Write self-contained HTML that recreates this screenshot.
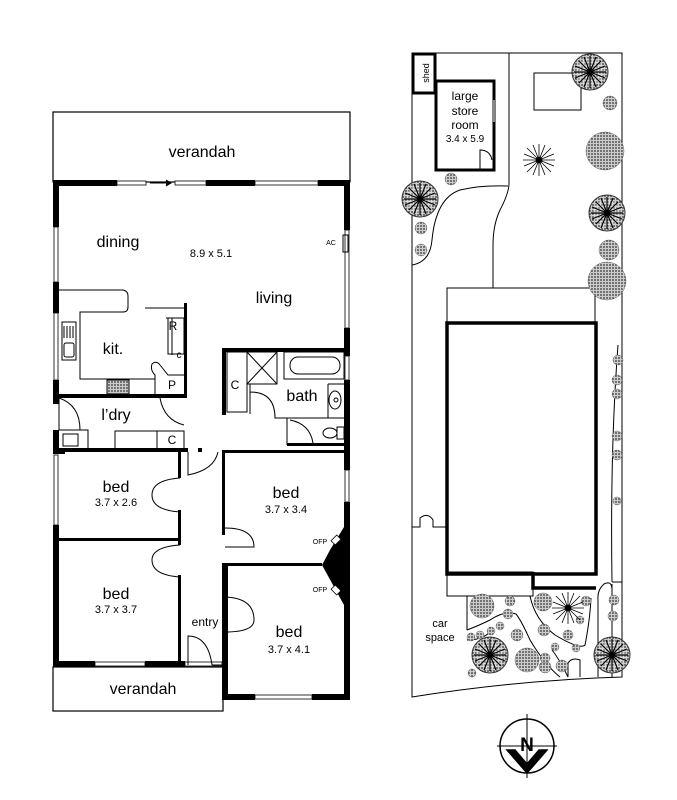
<!DOCTYPE html>
<html><head><meta charset="utf-8"><style>
html,body{margin:0;padding:0;background:#fff}
svg{display:block}
text{font-family:"Liberation Sans",Arial,sans-serif;fill:#000}
</style></head><body>
<svg width="677" height="800" viewBox="0 0 677 800" xmlns="http://www.w3.org/2000/svg">
<defs>
<pattern id="st" width="3" height="3" patternUnits="userSpaceOnUse"><rect width="3" height="3" fill="#ccc"/><circle cx="1" cy="1" r="0.9" fill="#333"/></pattern>
<g id="tree"><circle r="18" fill="url(#st)" stroke="#333" stroke-width="1"/><circle r="14" fill="#fff" opacity="0.3"/>
<g stroke="#000" stroke-width="1.2"><line x1="-16" y1="0" x2="16" y2="0"/><line x1="0" y1="-16" x2="0" y2="16"/><line x1="-11" y1="-11" x2="11" y2="11"/><line x1="-11" y1="11" x2="11" y2="-11"/><line x1="-15" y1="-6" x2="15" y2="6"/><line x1="-6" y1="-15" x2="6" y2="15"/><line x1="-15" y1="6" x2="15" y2="-6"/><line x1="6" y1="-15" x2="-6" y2="15"/></g><circle r="3" fill="#000"/></g>
<g id="spiky" stroke="#000" stroke-width="0.8"><line x1="-16" y1="0" x2="16" y2="0"/><line x1="0" y1="-16" x2="0" y2="16"/><line x1="-12" y1="-12" x2="12" y2="12"/><line x1="-12" y1="12" x2="12" y2="-12"/><line x1="-15" y1="-6" x2="15" y2="6"/><line x1="-6" y1="-15" x2="6" y2="15"/><line x1="-15" y1="6" x2="15" y2="-6"/><line x1="6" y1="-15" x2="-6" y2="15"/><circle r="3" fill="#000"/></g>
</defs>

<g fill="none" stroke="#000" stroke-width="1.2">
 <rect x="53" y="112" width="297" height="70"/>
 <rect x="53" y="667" width="170" height="44"/>
</g>
<g fill="#000">
 <rect x="53" y="180" width="64" height="6"/>
 <rect x="206" y="180" width="49" height="6"/>
 <rect x="318" y="180" width="32" height="6"/>
 <rect x="53" y="180" width="6" height="47"/>
 <rect x="53" y="282" width="6" height="31"/>
 <rect x="53" y="380" width="6" height="24"/>
 <rect x="53" y="430" width="6" height="20"/>
 <rect x="53" y="450" width="12" height="4"/>
 <rect x="53" y="525" width="6" height="142"/>
 <rect x="344" y="180" width="6" height="50"/>
 <rect x="344" y="328" width="6" height="28"/>
 <rect x="344" y="380" width="6" height="90"/>
 <rect x="344" y="502" width="6" height="198"/>
 <rect x="53" y="661" width="42" height="6"/>
 <rect x="145" y="661" width="40" height="6"/>
 <rect x="225" y="694" width="30" height="6"/>
 <rect x="312" y="694" width="38" height="6"/>
 <rect x="222" y="565" width="6" height="135"/>
 <rect x="53" y="394" width="134" height="4"/>
 <rect x="184" y="303" width="3" height="95"/>
 <rect x="222" y="348" width="128" height="4"/>
 <rect x="222" y="348" width="4" height="67"/>
 <rect x="53" y="448" width="135" height="4"/>
 <rect x="178" y="448" width="3" height="30"/>
 <rect x="178" y="510" width="3" height="35"/>
 <rect x="178" y="575" width="3" height="90"/>
 <rect x="53" y="538" width="128" height="3"/>
 <rect x="222" y="450" width="3" height="85"/>
 <rect x="222" y="567" width="3" height="30"/>
 <rect x="222" y="450" width="125" height="3"/>
 <rect x="222" y="563" width="100" height="3"/>
 <rect x="198" y="448" width="4" height="4"/>
 <rect x="287" y="443" width="60" height="3"/>
 <polygon points="344,527 344,605 322,565 330,550"/>
</g>
<g fill="#fff" stroke="#000" stroke-width="0.8">
 <rect x="117" y="181" width="29" height="4"/><rect x="175" y="181" width="31" height="4"/><rect x="255" y="181" width="63" height="4"/>
 <rect x="54" y="227" width="4" height="55"/><rect x="54" y="313" width="4" height="67"/><rect x="54" y="455" width="4" height="70"/>
 <rect x="345" y="230" width="4" height="98"/><rect x="345" y="356" width="4" height="24"/><rect x="345" y="470" width="4" height="32"/>
 <rect x="95" y="662" width="50" height="4"/><rect x="255" y="695" width="57" height="4"/><rect x="185" y="662" width="37" height="4"/>
 <rect x="333" y="536" width="6" height="8" transform="rotate(45 336 540)"/><rect x="333" y="586" width="6" height="8" transform="rotate(-45 336 590)"/>
</g>
<g stroke="#000" stroke-width="1" fill="none">
 <line x1="150" y1="183" x2="170" y2="183"/><polyline points="166,180 171,183 166,186" fill="#000"/>
 <path d="M59,290 H123 Q128,291 128,296 V307 Q128,312 123,312 H80 V379 H155"/>
 <rect x="62" y="322" width="14" height="38"/><line x1="64" y1="326" x2="64" y2="338"/><line x1="67" y1="326" x2="67" y2="338"/><line x1="70" y1="326" x2="70" y2="338"/><line x1="73" y1="326" x2="73" y2="338"/>
 <rect x="64" y="343" width="10" height="14" rx="2"/>
 <rect x="107" y="380" width="22" height="14" fill="url(#st)"/>
 <path d="M145,308 H184 M166,318 H184 V354 H168 V318 M172,318 V355 M155,394 V375 Q150,370 152,364 Q156,360 160,365 L168,375 H184"/>
 <path d="M343,235 H348 V252 H343 Z"/>
 <path d="M59,398 V430 H80 Q80,405 59,398"/>
 <path d="M160,398 Q164,420 184,425"/>
 <path d="M59,430 H88 V448 M63,434 H78 V446 H63 Z M115,448 V431 H157 V448 M157,431 H184 V448"/>
 <rect x="227" y="352" width="20" height="60"/>
 <rect x="247" y="352" width="30" height="32"/><line x1="247" y1="352" x2="277" y2="384"/><line x1="277" y1="352" x2="247" y2="384"/>
 <rect x="284" y="352" width="60" height="27"/><rect x="290" y="357" width="50" height="17" rx="8"/>
 <path d="M250,384 V414 M250,392 Q275,392 275,418 H344 M328,384 H344 M328,384 V418"/>
 <ellipse cx="335" cy="400" rx="6" ry="9"/><circle cx="336" cy="400" r="2"/>
 <path d="M287,418 V445 M290,420 Q310,424 313,443"/>
 <ellipse cx="330" cy="433" rx="7" ry="5"/><rect x="337" y="427" width="7" height="12"/>
 <path d="M188,452 V475 Q214,470 218,452"/>
 <path d="M180,478 Q152,480 152,495 Q152,510 180,512"/>
 <path d="M180,545 Q152,547 152,560 Q152,575 180,577"/>
 <path d="M225,528 Q254,528 254,547 H225"/>
 <path d="M225,597 Q254,598 254,620 Q254,632 225,632"/>
 <path d="M188,665 V636 Q208,636 212,665 M212,665 H222"/>
</g>
<g font-size="16" text-anchor="middle">
 <text x="202" y="157">verandah</text>
 <text x="118" y="247">dining</text>
 <text x="274" y="303">living</text>
 <text x="113" y="354">kit.</text>
 <text x="116" y="420">l’dry</text>
 <text x="302" y="401">bath</text>
 <text x="116" y="492">bed</text>
 <text x="116" y="599">bed</text>
 <text x="286" y="498">bed</text>
 <text x="289" y="637">bed</text>
 <text x="143" y="694">verandah</text>
</g>
<g font-size="11" text-anchor="middle">
 <text x="211" y="257">8.9 x 5.1</text>
 <text x="116" y="506">3.7 x 2.6</text>
 <text x="116" y="613">3.7 x 3.7</text>
 <text x="286" y="513">3.7 x 3.4</text>
 <text x="289" y="653">3.7 x 4.1</text>
 <text x="205" y="626" font-size="12">entry</text>
 <text x="173" y="330" font-size="12">R</text>
 <text x="179" y="358" font-size="10">c</text>
 <text x="172" y="389" font-size="12">P</text>
 <text x="172" y="444" font-size="12">C</text>
 <text x="235" y="389" font-size="12">C</text>
 <text x="331" y="245" font-size="7">AC</text>
 <text x="320" y="544" font-size="7">OFP</text>
 <text x="320" y="592" font-size="7">OFP</text>
</g>

<g fill="none" stroke="#000" stroke-width="1">
 <path d="M412,53 H622 V677 Q520,680 412,697 Z"/>
 <path d="M509,53 V185 Q508,195 500,210 Q493,225 493,245 V288"/>
 <path d="M412,265 Q430,262 432,240 Q436,198 460,190 Q480,185 508,186"/>
 <rect x="534" y="73" width="47" height="37"/>
 <rect x="447" y="288" width="148" height="35"/>
 <rect x="447" y="572" width="86" height="24"/>
 <path d="M412,527 H420 V518 Q428,512 433,520 V527 H447"/>
 <path d="M467,596 V630 M467,630 Q480,625 490,620 Q505,610 516,614 Q521,620 530,640 Q545,665 560,677"/>
 <path d="M467,640 Q482,640 490,632"/>
 <path d="M530,596 Q535,620 555,635 Q580,650 585,645 Q590,620 591,598"/>
 <path d="M598,677 V600 Q597,590 604,584 Q612,580 612,590 M612,584 V677 M612,582 H622"/>
 <path d="M580,677 V660 Q572,657 568,663 V677 M568,677 Q560,660 552,650"/>
 <path d="M618,345 Q610,450 612,582"/>
</g>
<rect x="447" y="323" width="149" height="251" fill="none" stroke="#000" stroke-width="3.5"/>
<path d="M533,572 V588 H596" fill="none" stroke="#000" stroke-width="3.5"/>
<rect x="413" y="54" width="22" height="39" fill="#fff" stroke="#000" stroke-width="3"/>
<rect x="436" y="81" width="58" height="89" fill="#fff" stroke="#000" stroke-width="3"/>
<rect x="492" y="100" width="3" height="22" fill="#888"/>
<path d="M480,170 V150 Q490,150 492,160" fill="none" stroke="#000" stroke-width="1"/>
<text x="426" y="73" font-size="9" text-anchor="middle" transform="rotate(-90 426 73)" dy="3">shed</text>
<g font-size="12" text-anchor="middle"><text x="465" y="100">large</text><text x="465" y="115">store</text><text x="465" y="129">room</text><text x="465" y="142" font-size="10">3.4 x 5.9</text>
<text x="440" y="627" font-size="11">car</text><text x="440" y="641" font-size="11">space</text></g>

<g fill="url(#st)" stroke="#666" stroke-width="0.5">
 <circle cx="610" cy="103" r="7"/><circle cx="451" cy="179" r="6"/><circle cx="421" cy="228" r="6"/><circle cx="421" cy="250" r="6"/>
 <circle cx="605" cy="151" r="19"/><circle cx="609" cy="250" r="10"/><circle cx="607" cy="281" r="19"/>
 <circle cx="618" cy="360" r="5"/><circle cx="617" cy="380" r="5"/><circle cx="617" cy="394" r="5"/><circle cx="617" cy="436" r="5"/><circle cx="617" cy="455" r="5"/><circle cx="617" cy="501" r="4"/>
 <circle cx="482" cy="606" r="12"/><circle cx="510" cy="601" r="5"/><circle cx="508" cy="614" r="5"/><circle cx="500" cy="626" r="4"/><circle cx="491" cy="631" r="4"/><circle cx="480" cy="635" r="4"/><circle cx="471" cy="637" r="4"/>
 <circle cx="543" cy="602" r="9"/><circle cx="544" cy="630" r="6"/><circle cx="586" cy="601" r="5"/><circle cx="580" cy="620" r="4"/><circle cx="555" cy="647" r="4"/><circle cx="568" cy="635" r="5"/><circle cx="576" cy="648" r="4"/>
 <circle cx="517" cy="635" r="6"/><circle cx="545" cy="667" r="6"/>
 <circle cx="527" cy="660" r="12"/><circle cx="545" cy="658" r="5"/><circle cx="562" cy="666" r="6"/>
 <circle cx="614" cy="600" r="5"/><circle cx="613" cy="616" r="5"/><circle cx="472" cy="673" r="4"/>
</g>
<use href="#tree" x="590" y="72"/>
<use href="#tree" x="420" y="199"/>
<use href="#tree" x="607" y="213"/>
<use href="#tree" x="490" y="655"/>
<use href="#tree" x="612" y="655"/>
<use href="#spiky" x="539" y="160"/>
<use href="#spiky" x="568" y="608"/>

<g fill="none" stroke="#000" stroke-width="1.5">
 <circle cx="527" cy="746" r="27"/>
 <line x1="527" y1="714" x2="527" y2="778" stroke-width="1"/><line x1="497" y1="746" x2="557" y2="746" stroke-width="1"/>
 <path d="M507,750 L527,773 L547,750 H539 L527,764 L515,750 Z" fill="#000"/>
</g>
<text x="527" y="751" font-size="19" font-weight="bold" text-anchor="middle">N</text>
</svg>
</body></html>
